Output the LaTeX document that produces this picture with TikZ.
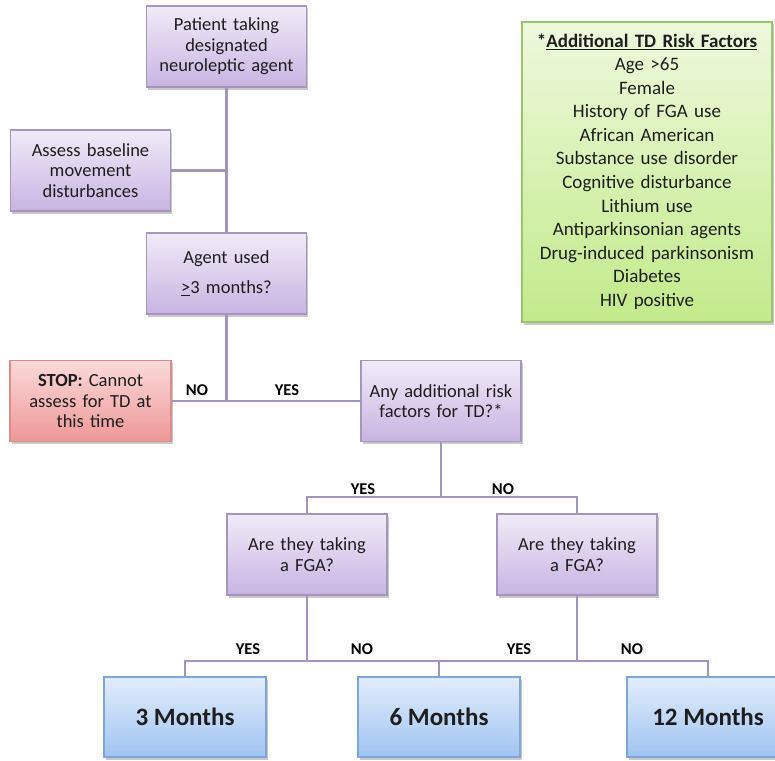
\documentclass[tikz,border=0pt]{standalone}
\usepackage{fontspec}
\setmainfont{Carlito}
\usetikzlibrary{shadows}
\definecolor{pTop}{HTML}{F1EBF8}
\definecolor{pBot}{HTML}{C8B4E2}
\definecolor{pBord}{HTML}{A597BC}
\definecolor{rTop}{HTML}{FBDADA}
\definecolor{rBot}{HTML}{EE9797}
\definecolor{rBord}{HTML}{D98C8C}
\definecolor{gTop}{HTML}{EEF9DD}
\definecolor{gBot}{HTML}{C2EA8A}
\definecolor{gBord}{HTML}{9CC46A}
\definecolor{bTop}{HTML}{E2EDFB}
\definecolor{bBot}{HTML}{9FC4F1}
\definecolor{bBord}{HTML}{7FA6D8}
\definecolor{lineC}{HTML}{A394C0}
\definecolor{txt}{HTML}{1E1E1E}
\tikzset{
  x=1pt,y=-1pt,
  boxbase/.style={rectangle, draw, line width=1.2pt, align=center, inner sep=2pt,
    text=txt, font=\fontsize{18.5}{20.5}\selectfont,
    drop shadow={shadow xshift=1.5pt, shadow yshift=-2.5pt, opacity=0.35, fill=black!60}},
  pbox/.style={boxbase, draw=pBord, top color=pTop, bottom color=pBot,
    minimum width=160pt, minimum height=81pt, text width=156pt},
  rbox/.style={boxbase, draw=rBord, top color=rTop, bottom color=rBot,
    minimum width=161pt, minimum height=81pt, text width=156pt},
  gbox/.style={boxbase, draw=gBord, top color=gTop, bottom color=gBot,
    minimum width=250pt, minimum height=300pt, text width=246pt,
    font=\fontsize{19}{23.6}\selectfont},
  mbox/.style={boxbase, draw=bBord, top color=bTop, bottom color=bBot,
    minimum width=162pt, minimum height=80pt, font=\bfseries\fontsize{25}{28}\selectfont},
  conn/.style={draw=lineC, line width=2.6pt},
  lbl/.style={font=\bfseries\fontsize{16.5}{18}\selectfont, text=black, inner sep=0pt}
}
\begin{document}
\begin{tikzpicture}
\clip (0,0) rectangle (775,760);
\fill[white] (0,0) rectangle (775,760);

\coordinate (j1) at (226.5,170.5);
\coordinate (j2) at (226.5,401);
\coordinate (j3) at (441,497);
\coordinate (jl) at (307,497);
\coordinate (jr) at (577,497);
\coordinate (k1) at (307,661);
\coordinate (k2) at (577,661);
\coordinate (kl) at (185,661);
\coordinate (km) at (439,661);
\coordinate (kr) at (708,661);

% nodes
\node[pbox] (top) at (226.5,46.5) {Patient taking\\designated\\neuroleptic agent};
\node[pbox] (assess) at (90.5,170.5) {Assess baseline\\movement\\disturbances};
\node[pbox, font=\fontsize{18.5}{30}\selectfont] (agent) at (226.5,273.5) {Agent used\\\underline{>}3 months?};
\node[rbox] (stop) at (90.5,401) {\textbf{STOP:} Cannot\\assess for TD at\\this time};
\node[pbox] (any) at (441,401) {Any additional risk\\factors for TD?*};
\node[pbox] (fga1) at (307,554.5) {Are they taking\\a FGA?};
\node[pbox] (fga2) at (577,554.5) {Are they taking\\a FGA?};
\node[mbox] (m3) at (185,717) {3 Months};
\node[mbox] (m6) at (439,717) {6 Months};
\node[mbox] (m12) at (708,717) {12 Months};
\node[gbox] (risk) at (647,172) {\textbf{*\underline{Additional TD Risk Factors}}\\[-1pt]
Age >65\\Female\\History of FGA use\\African American\\Substance use disorder\\Cognitive disturbance\\Lithium use\\Antiparkinsonian agents\\Drug-induced parkinsonism\\Diabetes\\HIV positive};

% connectors
\draw[conn] (top.south) -- (agent.north);
\draw[conn] (assess.east) -- (j1);
\draw[conn] (agent.south) -- (j2);
\draw[conn] (stop.east) -- (j2) -- (any.west);
\draw[conn] (any.south) -- (j3);
\draw[conn] (fga1.north) -- (jl) -- (jr) -- (fga2.north);
\draw[conn] (fga1.south) -- (k1);
\draw[conn] (fga2.south) -- (k2);
\draw[conn] (m3.north) -- (kl) -- (kr) -- (m12.north);
\draw[conn] (km) -- (m6.north);

% labels
\node[lbl] (l1) at (197,390) {NO};
\node[lbl] (l2) at (287,390) {YES};
\node[lbl] (l3) at (363,489) {YES};
\node[lbl] (l4) at (503,489) {NO};
\node[lbl] (l5) at (248,649) {YES};
\node[lbl] (l6) at (362,649) {NO};
\node[lbl] (l7) at (519,649) {YES};
\node[lbl] (l8) at (632,649) {NO};
\end{tikzpicture}
\end{document}
